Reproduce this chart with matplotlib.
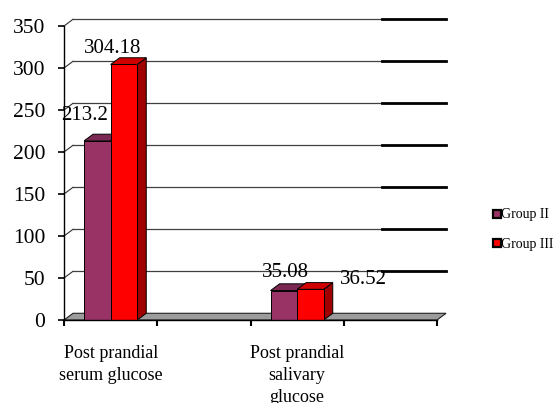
import numpy as np
import matplotlib
matplotlib.use("Agg")
import matplotlib.pyplot as plt
from matplotlib.patches import Polygon, Rectangle
from matplotlib.lines import Line2D

plt.rcParams["font.family"] = ["Liberation Serif", "DejaVu Serif"]

# Category slots along the x axis (two of them are left blank)
categories = ["Post prandial\nserum glucose", "", "Post prandial\nsalivary\nglucose", ""]
series_names = ["Group II", "Group III"]
group_ii = [213.2, np.nan, 35.08, np.nan]
group_iii = [304.18, np.nan, 36.52, np.nan]
y_ticks = [0, 50, 100, 150, 200, 250, 300, 350]

front_colors = ["#993366", "#FF0000"]
top_colors = ["#7A2852", "#D00000"]
side_colors = ["#66203F", "#A00000"]

# pseudo-3D depth in data units
DX = 0.097
DY = 8.0
BAR_W = 0.285

fig = plt.figure(figsize=(5.58, 4.03), dpi=100)
ax = fig.add_axes([0.098, 0.1851, 0.7353, 0.7921])
ax.set_xlim(-0.1, 4.3)
ax.set_ylim(-10, 370)

n = len(categories)

# floor
floor = Polygon([(0, 0), (n, 0), (n + DX, DY), (DX, DY)], closed=True,
                facecolor="#9C9C9C", edgecolor="#202020", lw=0.8, zorder=1)
ax.add_patch(floor)

# wall gridlines
for v in y_ticks[1:]:
    ax.plot([0, DX], [v, v + DY], color="#303030", lw=0.8, zorder=0.5)
    ax.plot([DX, 3.41], [v + DY, v + DY], color="#404040", lw=0.9, zorder=0.5)
    ax.plot([3.41, n + DX], [v + DY, v + DY], color="black", lw=2.0, zorder=0.5)


def bar3d(x0, h, k):
    front = Rectangle((x0, 0), BAR_W, h, facecolor=front_colors[k],
                      edgecolor="black", lw=0.7, zorder=3 + k)
    top = Polygon([(x0, h), (x0 + BAR_W, h), (x0 + BAR_W + DX, h + DY), (x0 + DX, h + DY)],
                  closed=True, facecolor=top_colors[k], edgecolor="black", lw=0.7, zorder=3 + k)
    side = Polygon([(x0 + BAR_W, 0), (x0 + BAR_W + DX, DY), (x0 + BAR_W + DX, h + DY), (x0 + BAR_W, h)],
                   closed=True, facecolor=side_colors[k], edgecolor="black", lw=0.7, zorder=3 + k)
    for p in (side, top, front):
        ax.add_patch(p)


label_shift = {  # (dx, baseline dy) of each value label from its bar
    (0, 0): (-0.14, 25), (0, 1): (-0.125, 13.5),
    (2, 0): (0.016, 16), (2, 1): (0.57, 6.5),
}

for k, vals in enumerate([group_ii, group_iii]):
    for i, v in enumerate(vals):
        if np.isnan(v):
            continue
        x0 = i + 0.5 - BAR_W + k * BAR_W
        bar3d(x0, v, k)
        sx, sy = label_shift[(i, k)]
        ax.text(x0 + BAR_W / 2 + sx, v + sy, f"{v:g}", ha="center", va="baseline",
                fontsize=15, color="black", zorder=10)

# axes
for s in ("top", "right"):
    ax.spines[s].set_visible(False)
ax.spines["left"].set_position(("data", 0))
ax.spines["left"].set_bounds(0, 350)
ax.spines["bottom"].set_position(("data", 0))
ax.spines["bottom"].set_bounds(0, n)
ax.spines["left"].set_linewidth(1.0)
ax.spines["bottom"].set_linewidth(1.0)
ax.spines["left"].set_zorder(6)
ax.spines["bottom"].set_zorder(6)

ax.set_yticks(y_ticks)
ax.set_yticklabels([str(t) for t in y_ticks])
ax.tick_params(axis="y", length=4.5, width=1.2, labelsize=15.5, pad=9)

ax.set_xticks(np.arange(n + 1))
ax.set_xticklabels([""] * (n + 1))
ax.tick_params(axis="x", which="major", length=4.5, width=1.5)
ax.set_xticks(np.arange(n) + 0.5, minor=True)
ax.set_xticklabels(categories, minor=True)
ax.tick_params(axis="x", which="minor", length=0, labelsize=13, pad=18)
for lbl in ax.get_xticklabels(minor=True):
    lbl.set_linespacing(1.4)

handles = [Line2D([], [], linestyle="none", marker="s", markersize=6,
                  markerfacecolor=c, markeredgecolor="black", markeredgewidth=1.6)
           for c in front_colors]
fig.legend(handles, series_names, loc="upper left", bbox_to_anchor=(0.87, 0.5),
           frameon=False, fontsize=10, handlelength=0.6, handletextpad=0.05,
           labelspacing=1.2, borderpad=0)

fig.savefig("out.png", dpi=100)
